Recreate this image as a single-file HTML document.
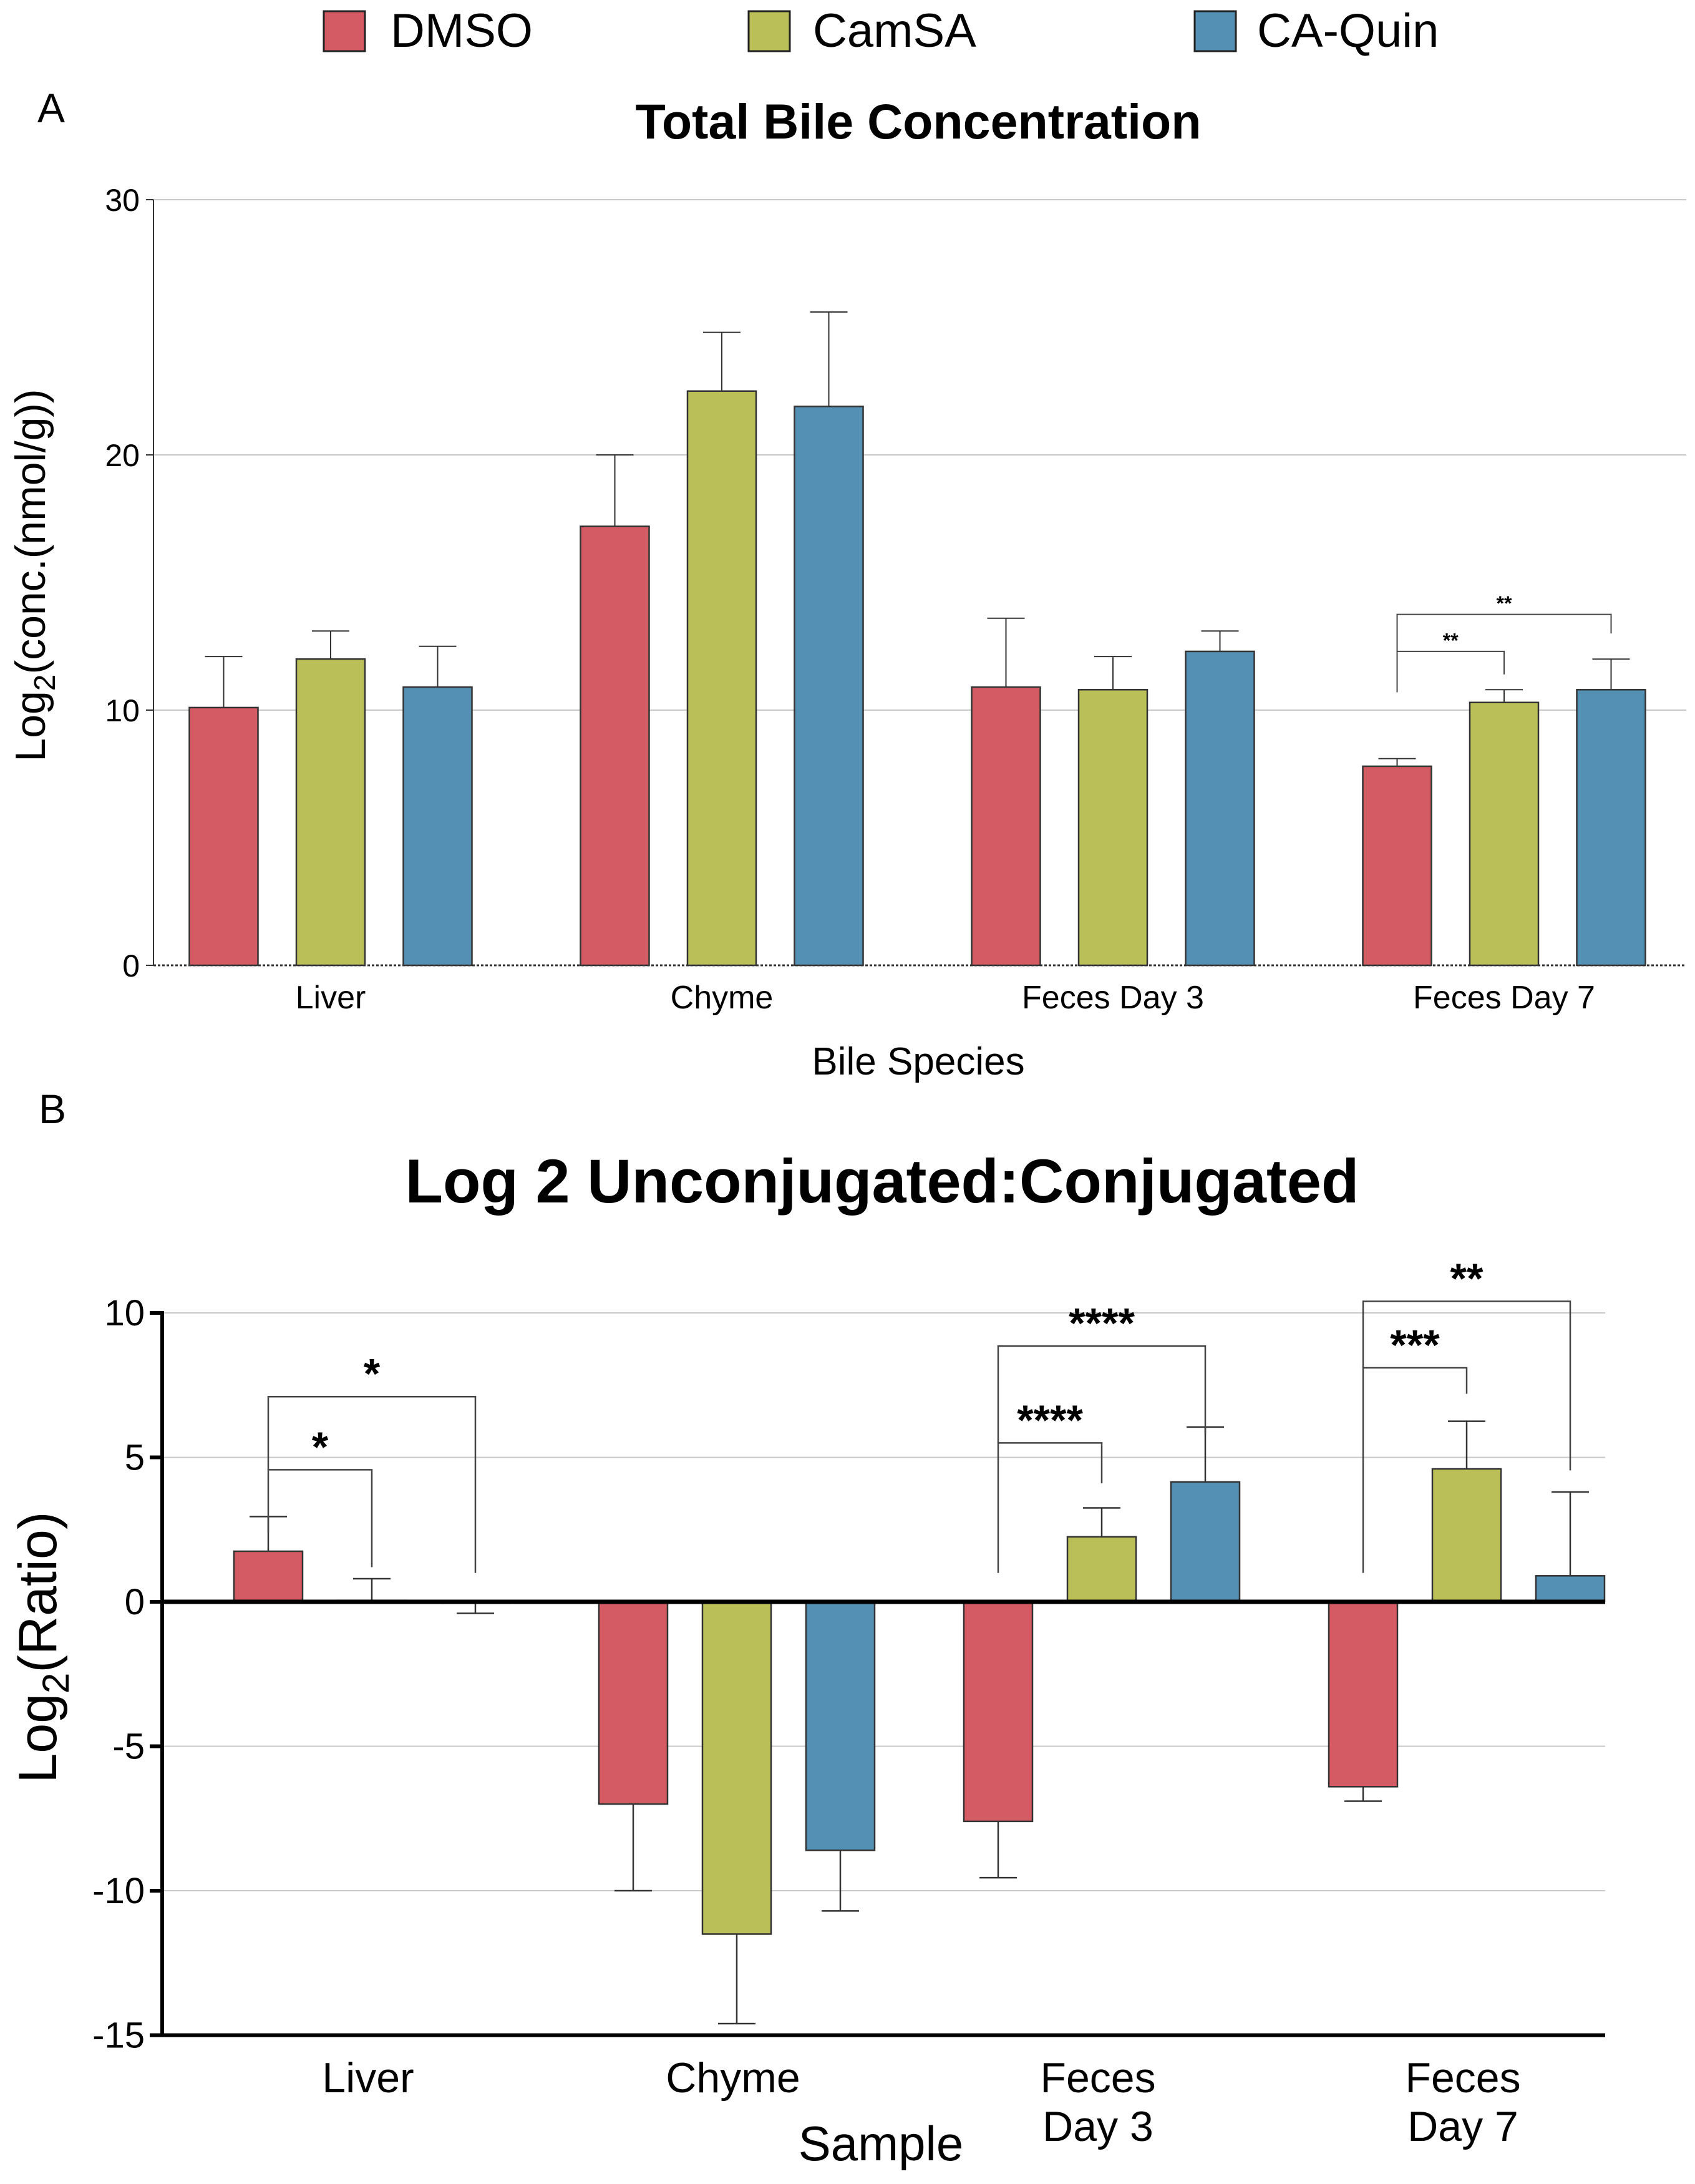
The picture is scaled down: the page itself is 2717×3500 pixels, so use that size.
<!DOCTYPE html>
<html><head><meta charset="utf-8"><style>
body{margin:0;background:#fff}
svg{display:block;font-family:"Liberation Sans",sans-serif}
</style></head><body>
<svg id="fig" width="2717" height="3500" xmlns="http://www.w3.org/2000/svg">
<g>
<rect x="519" y="18" width="66" height="64" fill="#D45A63" stroke="#222" stroke-width="3"/>
<text x="626" y="75" font-size="76">DMSO</text>
<rect x="1200" y="18" width="66" height="64" fill="#BAC057" stroke="#222" stroke-width="3"/>
<text x="1303" y="75" font-size="76">CamSA</text>
<rect x="1915" y="18" width="66" height="64" fill="#5490B4" stroke="#222" stroke-width="3"/>
<text x="2015" y="75" font-size="76">CA-Quin</text>
</g>
<text x="60" y="196" font-size="66">A</text>
<text x="1472" y="222" font-size="79" font-weight="bold" text-anchor="middle">Total Bile Concentration</text>
<text x="1472" y="1722" font-size="62" text-anchor="middle">Bile Species</text>
<text transform="translate(72,922) rotate(-90)" font-size="68" text-anchor="middle">Log<tspan font-size="48" dy="16">2</tspan><tspan dy="-16">(conc.(nmol/g))</tspan></text>
<text x="62" y="1800" font-size="66">B</text>
<text x="1414" y="1927" font-size="99" font-weight="bold" text-anchor="middle">Log 2 Unconjugated:Conjugated</text>
<text x="1412" y="3462" font-size="78" text-anchor="middle">Sample</text>
<text transform="translate(90,2640) rotate(-90)" font-size="86" text-anchor="middle">Log<tspan font-size="60" dy="20">2</tspan><tspan dy="-20">(Ratio)</tspan></text>
<g id="ga"></g><g id="gb"></g>
</svg>
<script>
const categories = ["Liver","Chyme","Feces Day 3","Feces Day 7"];
const seriesNames = ["DMSO","CamSA","CA-Quin"];
const colors = ["#D45A63","#BAC057","#5490B4"];
// Chart A
const aDMSO = [10.1,17.2,10.9,7.8];
const aCamSA = [12.0,22.5,10.8,10.3];
const aCAQuin = [10.9,21.9,12.3,10.8];
const aErrDMSO = [2.0,2.8,2.7,0.3];
const aErrCamSA = [1.1,2.3,1.3,0.5];
const aErrCAQuin = [1.6,3.7,0.8,1.2];
const aTicks = [0,10,20,30];
// Chart B
const bDMSO = [1.75,-7.0,-7.6,-6.4];
const bCamSA = [0.05,-11.5,2.25,4.6];
const bCAQuin = [-0.05,-8.6,4.15,0.9];
const bErrDMSO = [1.2,3.0,1.95,0.5];
const bErrCamSA = [0.75,3.1,1.0,1.65];
const bErrCAQuin = [0.35,2.1,1.9,2.9];
const bTicks = [10,5,0,-5,-10,-15];

const NS="http://www.w3.org/2000/svg";
function mk(parent,tag,attrs,text){const e=document.createElementNS(NS,tag);for(const k in attrs)e.setAttribute(k,attrs[k]);if(text!==undefined)e.textContent=text;parent.appendChild(e);return e;}

// ---- Chart A ----
const ga=document.getElementById('ga');
const aY=v=>1547-(v/30)*(1547-320);
const aX=(g,s)=>530+g*627+(s-1)*171.5;
aTicks.forEach(t=>{
  const gl=mk(ga,'line',{x1:246,x2:2703,y1:aY(t),y2:aY(t),stroke:t===0?'#333':'#c8c8c8','stroke-width':t===0?3:2,'stroke-dasharray':t===0?'4,3':''});
  
  
  const tk=mk(ga,'line',{x1:234,x2:246,y1:aY(t),y2:aY(t),stroke:'#333','stroke-width':2});
  
  
  const tl=mk(ga,'text',{x:224,y:aY(t)+18,'font-size':50,'text-anchor':'end'},String(t));
  
  
});
const ax=mk(ga,'line',{x1:246,x2:246,y1:320,y2:1547,stroke:'#333','stroke-width':2});


const aVals=[aDMSO,aCamSA,aCAQuin], aErrs=[aErrDMSO,aErrCamSA,aErrCAQuin];
categories.forEach((c,g)=>{
  const cl=mk(ga,'text',{x:aX(g,1),y:1616,'font-size':52,'text-anchor':'middle'},c);
  
  
  for(let s=0;s<3;s++){
    const v=aVals[s][g], e=aErrs[s][g], cx=aX(g,s);
    const ln=mk(ga,'path',{d:`M${cx} ${aY(v)}V${aY(v+e)}M${cx-30} ${aY(v+e)}H${cx+30}`,stroke:'#333','stroke-width':2,fill:'none'});
    
    
    const r=mk(ga,'rect',{x:cx-55,y:aY(v),width:110,height:aY(0)-aY(v),fill:colors[s],stroke:'#333','stroke-width':2.5});
    
    
  }
});
function bracket(parent,yf,g,s1,s2,top,l1,l2,stars,fs,xf,sw,name){
  const x1=xf(g,s1),x2=xf(g,s2);
  const p=mk(parent,'path',{d:`M${x1} ${yf(l1)}V${yf(top)}H${x2}V${yf(l2)}`,stroke:'#444','stroke-width':sw,fill:'none'});
  
  
  const t=mk(parent,'text',{x:(x1+x2)/2,y:yf(top)-fs*0.2,'font-size':fs,'font-weight':'bold','text-anchor':'middle'},stars);
  
  
}
bracket(ga,aY,3,0,1,12.3,10.7,11.4,'**',32,aX,2,'a-f7-inner');
bracket(ga,aY,3,0,2,13.75,10.7,13.0,'**',32,aX,2,'a-f7-outer');

// ---- Chart B ----
const gb=document.getElementById('gb');
const bY=v=>2567-(v/5)*231.5;
const bX=(g,s)=>596+g*585+(s-1)*166;
bTicks.forEach(t=>{
  if(t!==0&&t!==-15){
  const gl=mk(gb,'line',{x1:260,x2:2573,y1:bY(t),y2:bY(t),stroke:'#c8c8c8','stroke-width':2});
  
  }
  const tk=mk(gb,'line',{x1:240,x2:262,y1:bY(t),y2:bY(t),stroke:'#000','stroke-width':6});
  
  
  const tl=mk(gb,'text',{x:232,y:bY(t)+20,'font-size':58,'text-anchor':'end'},String(t));
  
  
});
const by=mk(gb,'line',{x1:260,x2:260,y1:bY(10)-3,y2:bY(-15)+3,stroke:'#000','stroke-width':6});


const bb=mk(gb,'line',{x1:257,x2:2573,y1:bY(-15),y2:bY(-15),stroke:'#000','stroke-width':6});


const bVals=[bDMSO,bCamSA,bCAQuin], bErrs=[bErrDMSO,bErrCamSA,bErrCAQuin];
categories.forEach((c,g)=>{
  const parts=c.startsWith('Feces')?['Feces',c.slice(6)]:[c];
  parts.forEach((p,i)=>{
    const cl=mk(gb,'text',{x:bX(g,1)-6,y:3353+i*78,'font-size':68,'text-anchor':'middle'},p);
    
    
  });
  for(let s=0;s<3;s++){
    const v=bVals[s][g], e=bErrs[s][g], cx=bX(g,s), d=v>=0?1:-1, end=v+d*e;
    const ln=mk(gb,'path',{d:`M${cx} ${bY(v)}V${bY(end)}M${cx-30} ${bY(end)}H${cx+30}`,stroke:'#333','stroke-width':2.5,fill:'none'});
    
    
    const r=mk(gb,'rect',{x:cx-55,y:Math.min(bY(v),bY(0)),width:110,height:Math.abs(bY(0)-bY(v)),fill:colors[s],stroke:'#333','stroke-width':2.5});
    
    
  }
});
const bz=mk(gb,'line',{x1:257,x2:2573,y1:bY(0),y2:bY(0),stroke:'#000','stroke-width':7});


bracket(gb,bY,0,0,1,4.57,2.4,1.2,'*',68,bX,2.5,'b-liver-inner');
bracket(gb,bY,0,0,2,7.1,4.57,1.0,'*',68,bX,2.5,'b-liver-outer');
bracket(gb,bY,2,0,1,5.5,1.0,4.1,'****',68,bX,2.5,'b-f3-inner');
bracket(gb,bY,2,0,2,8.85,5.5,5.8,'****',68,bX,2.5,'b-f3-outer');
bracket(gb,bY,3,0,1,8.1,1.0,7.2,'***',68,bX,2.5,'b-f7-inner');
bracket(gb,bY,3,0,2,10.4,8.1,4.55,'**',68,bX,2.5,'b-f7-outer');
</script>
</body></html>
